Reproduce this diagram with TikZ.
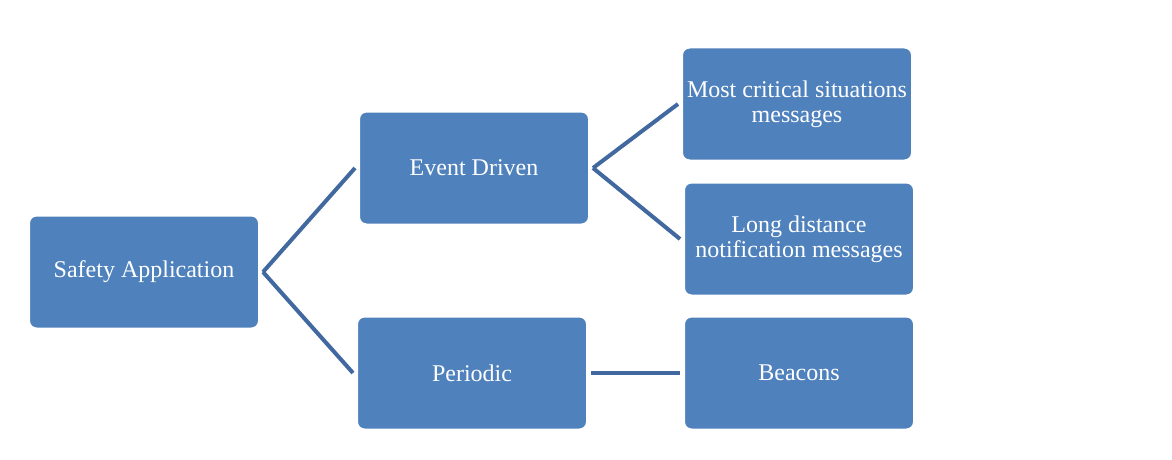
\documentclass[tikz,border=0pt]{standalone}
\usepackage{fontspec}
\setmainfont{Liberation Serif}
\definecolor{boxblue}{HTML}{4F81BD}
\definecolor{linkblue}{HTML}{41689F}
\begin{document}
\begin{tikzpicture}[x=1pt,y=-1pt,
  box/.style={draw=white, line width=5pt, fill=boxblue, rounded corners=9pt,
    minimum width=233pt, minimum height=116pt, inner sep=2pt,
    text=white, align=center, font=\fontsize{24}{25}\selectfont},
  link/.style={draw=linkblue, line width=4pt}]
\useasboundingbox[fill=white] (0,0) rectangle (1172,460);
\node[box] (safety) at (144,272) {Safety Application};
\node[box] (event) at (474,168) {Event Driven};
\node[box] (periodic) at (472,373) {Periodic};
\node[box] (critical) at (797,104) {Most critical situations\\messages};
\node[box] (long) at (799,239) {Long distance\\notification messages};
\node[box] (beacons) at (799,373) {Beacons};
\begin{scope}[on background layer/.try]
\end{scope}
\draw[link] (safety.east) -- (event.west);
\draw[link] (safety.east) -- (periodic.west);
\draw[link] (event.east) -- (critical.west);
\draw[link] (event.east) -- (long.west);
\draw[link] (periodic.east) -- (beacons.west);
\end{tikzpicture}
\end{document}
